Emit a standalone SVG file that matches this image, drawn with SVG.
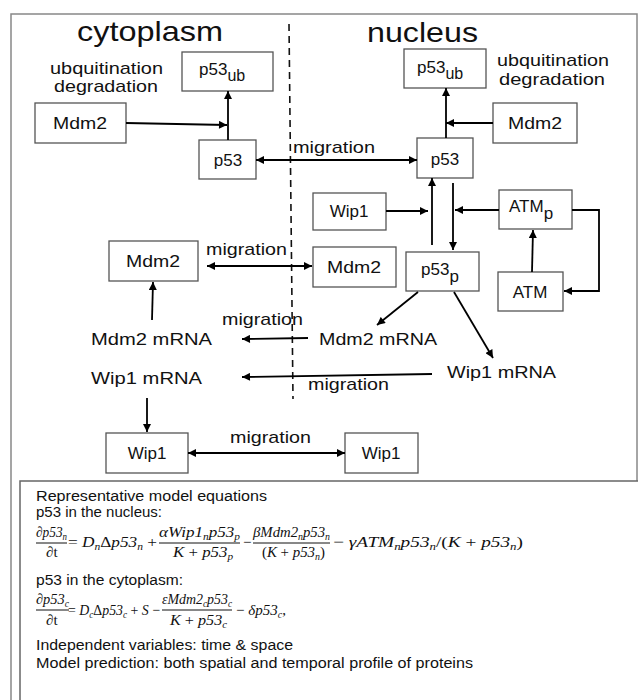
<svg xmlns="http://www.w3.org/2000/svg" width="638" height="700" viewBox="0 0 638 700">
<style>
.box{fill:#fff;stroke:#555;stroke-width:1.3}
.lbl{font-family:"Liberation Sans",Arial,sans-serif;font-size:17px;fill:#111}
.big{font-family:"Liberation Sans",Arial,sans-serif;font-size:28px;fill:#111}
.c{text-anchor:middle}
.ln{fill:none;stroke:#000;stroke-width:1.8}
.eqt{font-family:"Liberation Sans",Arial,sans-serif;font-size:14px;fill:#111}
.m{font-family:"Liberation Serif","DejaVu Serif",serif;font-style:italic;font-size:15px;fill:#111}
.up{font-style:normal}
.s{font-size:10px}
.bar{stroke:#111;stroke-width:1}
</style>
<defs>
<marker id="ah" viewBox="0 0 10 10" refX="10" refY="5" markerWidth="9" markerHeight="8" markerUnits="userSpaceOnUse" orient="auto-start-reverse">
<path d="M0,0 L10,5 L0,10 z" fill="#000"/>
</marker>
</defs>
<rect x="11" y="14" width="626" height="700" fill="#fff" stroke="#888" stroke-width="1.5"/>
<line x1="289" y1="24" x2="293" y2="399" stroke="#111" stroke-width="1.6" stroke-dasharray="7,5"/>
<text class="big" x="77" y="41" textLength="146" lengthAdjust="spacingAndGlyphs">cytoplasm</text>
<text class="big" x="367" y="42" textLength="111" lengthAdjust="spacingAndGlyphs">nucleus</text>
<text class="lbl" x="50" y="74" textLength="113" lengthAdjust="spacingAndGlyphs">ubquitination</text>
<text class="lbl" x="54" y="92" textLength="104" lengthAdjust="spacingAndGlyphs">degradation</text>
<text class="lbl" x="497" y="66" textLength="112" lengthAdjust="spacingAndGlyphs">ubquitination</text>
<text class="lbl" x="499" y="85" textLength="106" lengthAdjust="spacingAndGlyphs">degradation</text>
<g id="p53ub_c"><rect class="box" x="182" y="52" width="91" height="39"/><text class="lbl" x="199" y="75">p53<tspan font-size="16" dy="6">ub</tspan></text></g>
<g id="mdm2_c1"><rect class="box" x="35" y="103" width="91" height="40"/><text class="lbl c" x="80" y="129" textLength="54" lengthAdjust="spacingAndGlyphs">Mdm2</text></g>
<g id="p53_c"><rect class="box" x="199" y="140" width="57" height="39"/><text class="lbl c" x="228" y="166">p53</text></g>
<g id="p53ub_n"><rect class="box" x="404" y="49" width="82" height="39"/><text class="lbl" x="417" y="73">p53<tspan font-size="16" dy="6">ub</tspan></text></g>
<g id="mdm2_n1"><rect class="box" x="493" y="103" width="84" height="40"/><text class="lbl c" x="535" y="129" textLength="54" lengthAdjust="spacingAndGlyphs">Mdm2</text></g>
<g id="p53_n"><rect class="box" x="417" y="138" width="56" height="40"/><text class="lbl c" x="445" y="165">p53</text></g>
<g id="wip1_n"><rect class="box" x="313" y="193" width="73" height="37"/><text class="lbl c" x="349" y="217">Wip1</text></g>
<g id="atmp"><rect class="box" x="499" y="190" width="73" height="39"/><text class="lbl" x="509" y="212">ATM<tspan font-size="17" dy="7">p</tspan></text></g>
<g id="mdm2_c2"><rect class="box" x="109" y="241" width="89" height="40"/><text class="lbl c" x="153" y="267" textLength="54" lengthAdjust="spacingAndGlyphs">Mdm2</text></g>
<g id="mdm2_n2"><rect class="box" x="313" y="247" width="83" height="40"/><text class="lbl c" x="354" y="273" textLength="54" lengthAdjust="spacingAndGlyphs">Mdm2</text></g>
<g id="p53p"><rect class="box" x="406" y="252" width="73" height="39"/><text class="lbl" x="421" y="275">p53<tspan font-size="17" dy="7">p</tspan></text></g>
<g id="atm"><rect class="box" x="498" y="272" width="65" height="39"/><text class="lbl c" x="530" y="298">ATM</text></g>
<g id="mdm2mrna_c"><text class="lbl" x="91" y="345" textLength="121" lengthAdjust="spacingAndGlyphs">Mdm2 mRNA</text></g>
<g id="mdm2mrna_n"><text class="lbl" x="319" y="345" textLength="118" lengthAdjust="spacingAndGlyphs">Mdm2 mRNA</text></g>
<g id="wip1mrna_c"><text class="lbl" x="91" y="384" textLength="111" lengthAdjust="spacingAndGlyphs">Wip1 mRNA</text></g>
<g id="wip1mrna_n"><text class="lbl" x="447" y="378" textLength="109" lengthAdjust="spacingAndGlyphs">Wip1 mRNA</text></g>
<g id="wip1_c"><rect class="box" x="106" y="433" width="82" height="40"/><text class="lbl c" x="147" y="459">Wip1</text></g>
<g id="wip1_n2"><rect class="box" x="345" y="433" width="73" height="40"/><text class="lbl c" x="381" y="459">Wip1</text></g>
<g id="labels">
<text class="lbl" x="293" y="153" textLength="82" lengthAdjust="spacingAndGlyphs">migration</text>
<text class="lbl" x="206" y="255" textLength="81" lengthAdjust="spacingAndGlyphs">migration</text>
<text class="lbl" x="222" y="325" textLength="81" lengthAdjust="spacingAndGlyphs">migration</text>
<text class="lbl" x="308" y="390" textLength="81" lengthAdjust="spacingAndGlyphs">migration</text>
<text class="lbl" x="230" y="443" textLength="81" lengthAdjust="spacingAndGlyphs">migration</text>
</g>
<g id="connectors">
<path class="ln" d="M126,123 L227,125" marker-end="url(#ah)"/>
<path class="ln" d="M228,140 L228,91" marker-end="url(#ah)"/>
<path class="ln" d="M256,160 L417,160" marker-start="url(#ah)" marker-end="url(#ah)"/>
<path class="ln" d="M493,123 L446,123" marker-end="url(#ah)"/>
<path class="ln" d="M446,138 L446,88" marker-end="url(#ah)"/>
<path class="ln" d="M386,211 L428,211" marker-end="url(#ah)"/>
<path class="ln" d="M432,245 L432,178" marker-end="url(#ah)"/>
<path class="ln" d="M453,183 L453,250" marker-end="url(#ah)"/>
<path class="ln" d="M499,210 L455,210" marker-end="url(#ah)"/>
<path class="ln" d="M572,210 L599,210 L599,291 L564,291" marker-end="url(#ah)"/>
<path class="ln" d="M532,272 L533,230" marker-end="url(#ah)"/>
<path class="ln" d="M207,266 L312,266" marker-start="url(#ah)" marker-end="url(#ah)"/>
<path class="ln" d="M418,292 L377,325" marker-end="url(#ah)"/>
<path class="ln" d="M454,292 L493,358" marker-end="url(#ah)"/>
<path class="ln" d="M308,338 L242,339" marker-end="url(#ah)"/>
<path class="ln" d="M432,374 L242,377" marker-end="url(#ah)"/>
<path class="ln" d="M152,320 L153,282" marker-end="url(#ah)"/>
<path class="ln" d="M147,398 L147,432" marker-end="url(#ah)"/>
<path class="ln" d="M188,453 L345,453" marker-start="url(#ah)" marker-end="url(#ah)"/>
</g>
<g id="equations">
<rect x="20" y="481" width="630" height="300" fill="#fff" stroke="#666" stroke-width="1.5"/>
<text class="eqt" x="36" y="501" textLength="231" lengthAdjust="spacingAndGlyphs">Representative model equations</text>
<text class="eqt" x="36" y="517" textLength="126" lengthAdjust="spacingAndGlyphs">p53 in the nucleus:</text>
<text class="m" x="36" y="537" textLength="31" lengthAdjust="spacingAndGlyphs">∂p53<tspan class="s" dy="3">n</tspan></text>
<line class="bar" x1="36" y1="543" x2="67" y2="543"/>
<text class="m" x="46" y="557">∂<tspan class="up">t</tspan></text>
<text class="m" x="68" y="547" textLength="89" lengthAdjust="spacingAndGlyphs"><tspan class="up">=</tspan> D<tspan class="s" dy="3">n</tspan><tspan dy="-3" class="up">Δ</tspan>p53<tspan class="s" dy="3">n</tspan><tspan dy="-3" class="up"> +</tspan></text>
<text class="m" x="159" y="537" textLength="81" lengthAdjust="spacingAndGlyphs">αWip1<tspan class="s" dy="3">n</tspan><tspan dy="-3">p53</tspan><tspan class="s" dy="3">p</tspan></text>
<line class="bar" x1="159" y1="543" x2="240" y2="543"/>
<text class="m" x="173" y="557" textLength="60" lengthAdjust="spacingAndGlyphs">K <tspan class="up">+</tspan> p53<tspan class="s" dy="3">p</tspan></text>
<text class="m up" x="243" y="547">−</text>
<text class="m" x="253" y="537" textLength="77" lengthAdjust="spacingAndGlyphs">βMdm2<tspan class="s" dy="3">n</tspan><tspan dy="-3">p53</tspan><tspan class="s" dy="3">n</tspan></text>
<line class="bar" x1="253" y1="543" x2="330" y2="543"/>
<text class="m" x="262" y="557" textLength="63" lengthAdjust="spacingAndGlyphs"><tspan class="up">(</tspan>K <tspan class="up">+</tspan> p53<tspan class="s" dy="3">n</tspan><tspan class="up" dy="-3">)</tspan></text>
<text class="m" x="333" y="547" textLength="190" lengthAdjust="spacingAndGlyphs"><tspan class="up">−</tspan> γATM<tspan class="s" dy="3">n</tspan><tspan dy="-3">p53</tspan><tspan class="s" dy="3">n</tspan><tspan dy="-3" class="up">/(</tspan>K <tspan class="up">+</tspan> p53<tspan class="s" dy="3">n</tspan><tspan class="up" dy="-3">)</tspan></text>
<text class="eqt" x="36" y="585" textLength="147" lengthAdjust="spacingAndGlyphs">p53 in the cytoplasm:</text>
<text class="m" x="36" y="604" textLength="33" lengthAdjust="spacingAndGlyphs">∂p53<tspan class="s" dy="3">c</tspan></text>
<line class="bar" x1="36" y1="610" x2="69" y2="610"/>
<text class="m" x="46" y="625">∂<tspan class="up">t</tspan></text>
<text class="m" x="68" y="615" textLength="92" lengthAdjust="spacingAndGlyphs"><tspan class="up">=</tspan> D<tspan class="s" dy="3">c</tspan><tspan dy="-3" class="up">Δ</tspan>p53<tspan class="s" dy="3">c</tspan><tspan dy="-3" class="up"> +</tspan> S <tspan class="up">−</tspan></text>
<text class="m" x="162" y="604" textLength="70" lengthAdjust="spacingAndGlyphs">εMdm2<tspan class="s" dy="3">c</tspan><tspan dy="-3">p53</tspan><tspan class="s" dy="3">c</tspan></text>
<line class="bar" x1="162" y1="610" x2="232" y2="610"/>
<text class="m" x="170" y="625" textLength="57" lengthAdjust="spacingAndGlyphs">K <tspan class="up">+</tspan> p53<tspan class="s" dy="3">c</tspan></text>
<text class="m" x="236" y="615"><tspan class="up">−</tspan> δp53<tspan class="s" dy="3">c</tspan><tspan dy="-3" class="up">,</tspan></text>
<text class="eqt" x="36" y="650" textLength="257" lengthAdjust="spacingAndGlyphs">Independent variables: time &amp; space</text>
<text class="eqt" x="36" y="668" textLength="437" lengthAdjust="spacingAndGlyphs">Model prediction: both spatial and temporal profile of proteins</text>
</g>
</svg>
